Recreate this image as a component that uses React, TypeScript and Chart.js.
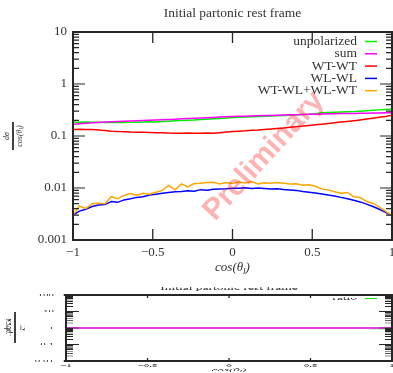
import React, { useEffect, useRef } from "react";
import { Chart, registerables } from "chart.js";

Chart.register(...registerables);

// ---------- data ----------
const xBins = [
  -1, -0.96, -0.92, -0.88, -0.84, -0.8, -0.76, -0.72, -0.68, -0.64, -0.6, -0.56, -0.52,
  -0.48, -0.44, -0.4, -0.36, -0.32, -0.28, -0.24, -0.2, -0.16, -0.12, -0.08, -0.04, 0,
  0.04, 0.08, 0.12, 0.16, 0.2, 0.24, 0.28, 0.32, 0.36, 0.4, 0.44, 0.48, 0.52, 0.56, 0.6,
  0.64, 0.68, 0.72, 0.76, 0.8, 0.84, 0.88, 0.92, 0.96, 1,
];

const unpolarized = [
  0.186, 0.184, 0.185, 0.183, 0.184, 0.182, 0.183, 0.181, 0.182, 0.184, 0.183, 0.185, 0.187,
  0.186, 0.19, 0.193, 0.196, 0.198, 0.201, 0.203, 0.207, 0.21, 0.214, 0.218, 0.222, 0.226,
  0.229, 0.232, 0.235, 0.238, 0.24, 0.243, 0.246, 0.249, 0.252, 0.255, 0.258, 0.262, 0.268,
  0.279, 0.284, 0.286, 0.289, 0.292, 0.295, 0.3, 0.306, 0.312, 0.318, 0.325, 0.332,
];

const sum = [
  0.168, 0.172, 0.176, 0.179, 0.182, 0.185, 0.187, 0.189, 0.192, 0.194, 0.196, 0.198, 0.2,
  0.203, 0.205, 0.208, 0.211, 0.214, 0.216, 0.219, 0.222, 0.225, 0.228, 0.231, 0.234, 0.237,
  0.239, 0.241, 0.243, 0.245, 0.247, 0.249, 0.251, 0.253, 0.255, 0.257, 0.259, 0.261, 0.263,
  0.265, 0.267, 0.268, 0.27, 0.271, 0.272, 0.274, 0.275, 0.276, 0.277, 0.279, 0.281,
];

const wtwt = [
  0.134, 0.135, 0.134, 0.133, 0.13, 0.127, 0.124, 0.122, 0.121, 0.119, 0.118, 0.118, 0.117,
  0.116, 0.116, 0.114, 0.113, 0.113, 0.114, 0.113, 0.113, 0.114, 0.113, 0.116, 0.119, 0.122,
  0.124, 0.126, 0.129, 0.131, 0.134, 0.137, 0.14, 0.143, 0.147, 0.151, 0.155, 0.16, 0.165,
  0.169, 0.174, 0.179, 0.185, 0.191, 0.197, 0.204, 0.212, 0.22, 0.229, 0.238, 0.25,
];

const wlwl = [
  0.003, 0.0036, 0.0039, 0.0044, 0.0047, 0.0048, 0.0055, 0.0053, 0.0059, 0.0062, 0.0066,
  0.0068, 0.0073, 0.0076, 0.0079, 0.0082, 0.0085, 0.0086, 0.0089, 0.0087, 0.0093, 0.0091,
  0.0095, 0.0096, 0.0097, 0.0099, 0.0099, 0.0101, 0.0098, 0.01, 0.0098, 0.0096, 0.0097,
  0.0094, 0.0092, 0.009, 0.0086, 0.0083, 0.008, 0.0077, 0.0073, 0.007, 0.0066, 0.0062,
  0.0058, 0.0054, 0.0049, 0.0044, 0.0039, 0.0034, 0.0029,
];

const mixed = [
  0.003, 0.0045, 0.004, 0.005, 0.0051, 0.005, 0.0068, 0.0062, 0.0072, 0.0078, 0.0073, 0.0079,
  0.0076, 0.0083, 0.009, 0.0112, 0.0092, 0.012, 0.0105, 0.0122, 0.0124, 0.0127, 0.0129,
  0.012, 0.0128, 0.0122, 0.013, 0.0125, 0.0133, 0.012, 0.0126, 0.0123, 0.0128, 0.0124,
  0.0119, 0.0121, 0.0113, 0.0116, 0.0108, 0.0096, 0.0092, 0.0085, 0.0079, 0.0082, 0.0068,
  0.0066, 0.0055, 0.0051, 0.0043, 0.0036, 0.0029,
];

const ratio = [
  1.08, 1.1, 1.06, 1.04, 1.02, 1.0, 1.0, 1.0, 1.0, 1.0, 1.0, 1.0, 1.02, 1.0, 1.0, 1.0, 1.0,
  1.0, 1.0, 1.0, 1.0, 1.0, 1.0, 1.0, 1.0, 1.04, 1.05, 1.02, 1.0, 1.03, 1.05, 1.02, 1.0, 1.0,
  1.0, 1.0, 0.98, 0.97, 0.96, 0.95, 0.94, 0.93, 0.93, 0.92, 0.92, 0.91, 0.91, 0.9, 0.9, 0.9,
  0.89,
];
const ratioRefX = [-1, 1];
const ratioRefY = [1, 1];

const xTickValues = [-1, -0.5, 0, 0.5, 1];
const mainYTicks = [0.001, 0.01, 0.1, 1, 10];
const ratioYTicks = [0.01, 0.1, 1, 10, 100];

const seriesLabels = ["unpolarized", "sum", "WT-WT", "WL-WL", "WT-WL+WL-WT"];
const seriesColors = ["#00ee00", "#ff00ff", "#ff0000", "#0000ff", "#ffa500"];
const titleText = "Initial partonic rest frame";

// ---------- styling helpers ----------
const FONT = '"Liberation Serif", "Times New Roman", serif';
const SANS = '"Liberation Sans", Arial, sans-serif';
const INK = "#333333";
const FRAME = "#262626";

type Part = [string, boolean];
const cosTheta: Part[] = [["cos(θ", false], ["l", true], [")", false]];

function drawParts(ctx: CanvasRenderingContext2D, parts: Part[], cx: number, cy: number, size: number, italic: boolean) {
  const base = `${italic ? "italic " : ""}${size}px ${FONT}`;
  const sub = `${italic ? "italic " : ""}${(size * 0.7).toFixed(1)}px ${FONT}`;
  let total = 0;
  for (const [t, s] of parts) {
    ctx.font = s ? sub : base;
    total += ctx.measureText(t).width;
  }
  let x = cx - total / 2;
  ctx.textAlign = "left";
  ctx.textBaseline = "middle";
  for (const [t, s] of parts) {
    ctx.font = s ? sub : base;
    ctx.fillText(t, x, s ? cy + size * 0.3 : cy);
    x += ctx.measureText(t).width;
  }
}

const gpPlugin = {
  id: "gp",
  afterDatasetsDraw(chart: any, _a: any, o: any) {
    if (!o.watermark) return;
    const ctx = chart.ctx as CanvasRenderingContext2D;
    ctx.save();
    ctx.translate(o.watermark.x, o.watermark.y);
    ctx.rotate((-o.watermark.angle * Math.PI) / 180);
    ctx.font = `bold ${o.watermark.size}px ${SANS}`;
    ctx.fillStyle = "rgba(255,0,0,0.3)";
    ctx.textAlign = "center";
    ctx.textBaseline = "middle";
    ctx.fillText(o.watermark.text, 0, 0);
    ctx.restore();
  },
  afterDraw(chart: any, _a: any, o: any) {
    const ctx = chart.ctx as CanvasRenderingContext2D;
    const ca = chart.chartArea;
    const xs = chart.scales.x;
    const ys = chart.scales.y;
    ctx.save();
    // frame
    ctx.strokeStyle = FRAME;
    ctx.lineCap = "square";
    ctx.lineWidth = o.frameHW;
    ctx.beginPath();
    ctx.moveTo(ca.left, ca.top); ctx.lineTo(ca.right, ca.top);
    ctx.moveTo(ca.left, ca.bottom); ctx.lineTo(ca.right, ca.bottom);
    ctx.stroke();
    ctx.lineWidth = o.frameW;
    ctx.beginPath();
    ctx.moveTo(ca.left, ca.top); ctx.lineTo(ca.left, ca.bottom);
    ctx.moveTo(ca.right, ca.top); ctx.lineTo(ca.right, ca.bottom);
    ctx.stroke();
    ctx.lineCap = "butt";
    // x ticks (mirrored, inward)
    ctx.lineWidth = o.vTickW;
    ctx.beginPath();
    for (const v of xTickValues) {
      const p = xs.getPixelForValue(v);
      ctx.moveTo(p, ca.top); ctx.lineTo(p, ca.top + o.xTickLen);
      ctx.moveTo(p, ca.bottom); ctx.lineTo(p, ca.bottom - o.xTickLen);
    }
    ctx.stroke();
    // y log ticks (mirrored, inward)
    ctx.lineWidth = o.hTickW;
    ctx.beginPath();
    const d0 = Math.round(Math.log10(ys.min));
    const d1 = Math.round(Math.log10(ys.max));
    for (let d = d0; d <= d1; d++) {
      for (let m = 1; m <= 9; m++) {
        if (d === d1 && m > 1) break;
        const p = ys.getPixelForValue(m * Math.pow(10, d));
        const len = m === 1 ? o.yMajorLen : o.yMinorLen;
        ctx.moveTo(ca.left, p); ctx.lineTo(ca.left + len, p);
        ctx.moveTo(ca.right, p); ctx.lineTo(ca.right - len, p);
      }
    }
    ctx.stroke();
    // title
    ctx.fillStyle = INK;
    ctx.font = `${o.titleSize}px ${FONT}`;
    ctx.textAlign = "center";
    ctx.textBaseline = "middle";
    ctx.fillText(o.title, (ca.left + ca.right) / 2, o.titleY);
    // legend (gnuplot style: text right aligned, then line sample)
    let i = 0;
    for (const ds of chart.data.datasets) {
      if (!ds.label) continue;
      const y = o.legendY0 + i * o.legendDy;
      ctx.fillStyle = INK;
      ctx.font = `${o.legendSize}px ${FONT}`;
      ctx.textAlign = "right";
      ctx.textBaseline = "middle";
      ctx.fillText(ds.label, o.legendRight, y);
      ctx.strokeStyle = ds.borderColor;
      ctx.lineWidth = o.legendLineW;
      ctx.beginPath();
      ctx.moveTo(o.legendRight + 8, y);
      ctx.lineTo(o.legendRight + 20, y);
      ctx.stroke();
      i++;
    }
    // x axis title
    ctx.fillStyle = INK;
    drawParts(ctx, cosTheta, (ca.left + ca.right) / 2, o.xTitleY, o.xTitleSize, true);
    // y axis label (rotated fraction)
    const yl = o.yLabel;
    ctx.translate(yl.x, yl.cy);
    ctx.rotate(-Math.PI / 2);
    ctx.fillStyle = "#111";
    ctx.fillRect(-yl.len / 2, -yl.barW / 2, yl.len, yl.barW);
    ctx.fillStyle = INK;
    drawParts(ctx, yl.num, 0, -yl.off, yl.size, true);
    drawParts(ctx, yl.den, 0, yl.off, yl.size, true);
    ctx.restore();
  },
};

const fmtX = (v: number) => (v < 0 ? "\u2212" + String(Math.abs(v)) : String(v));

function pts(ys: number[]) {
  return xBins.map((x, i) => ({ x, y: ys[i] }));
}

export default function App() {
  const mainRef = useRef<HTMLCanvasElement>(null);
  const ratioRef = useRef<HTMLCanvasElement>(null);

  useEffect(() => {
    const seriesValues = [unpolarized, sum, wtwt, wlwl, mixed];
    const main = new Chart(mainRef.current as HTMLCanvasElement, {
      type: "line",
      data: {
        datasets: seriesValues.map((vals, i) => ({
          label: seriesLabels[i],
          data: pts(vals),
          borderColor: seriesColors[i],
          backgroundColor: seriesColors[i],
          borderWidth: 1.5,
          pointRadius: 0,
          tension: 0,
          order: seriesValues.length - i,
        })),
      },
      options: {
        responsive: false,
        animation: false,
        events: [],
        layout: { padding: { left: 0, right: 1, top: 32, bottom: 0 } },
        plugins: {
          legend: { display: false },
          tooltip: { enabled: false },
          title: { display: false },
          gp: {
            title: titleText, titleY: 13, titleSize: 13.5,
            legendRight: 357, legendY0: 41.5, legendDy: 12.3, legendSize: 13.5, legendLineW: 1.5,
            xTitleY: 268, xTitleSize: 13,
            frameW: 2, frameHW: 2, vTickW: 1.3, hTickW: 1.2,
            xTickLen: 11, yMajorLen: 12, yMinorLen: 6,
            yLabel: {
              x: 13, cy: 136, len: 28, barW: 1.6, size: 8, off: 6.5,
              num: [["dσ", false]], den: cosTheta,
            },
            watermark: { text: "Preliminary", x: 264, y: 156, angle: 47.5, size: 30 },
          },
        } as any,
        scales: {
          x: {
            type: "linear", min: -1, max: 1,
            grid: { display: false, drawTicks: false },
            border: { display: false },
            ticks: {
              padding: 5, color: INK, font: { family: FONT, size: 13 },
              maxRotation: 0, autoSkip: false,
              callback: (v: any) => fmtX(Number(v)),
            },
            afterBuildTicks: (s: any) => { s.ticks = xTickValues.map((v) => ({ value: v })); },
            afterFit: (s: any) => { s.height = 40; s.paddingLeft = 0; s.paddingRight = 0; },
          },
          y: {
            type: "logarithmic", min: 0.001, max: 10,
            grid: { display: false, drawTicks: false },
            border: { display: false },
            ticks: {
              padding: 6, color: INK, font: { family: FONT, size: 13 },
              autoSkip: false,
              callback: (v: any) => String(Number(v)),
            },
            afterBuildTicks: (s: any) => { s.ticks = mainYTicks.map((v) => ({ value: v })); },
            afterFit: (s: any) => { s.width = 73; s.paddingTop = 0; s.paddingBottom = 0; },
          },
        } as any,
      },
      plugins: [gpPlugin as any],
    });

    const ratioChart = new Chart(ratioRef.current as HTMLCanvasElement, {
      type: "line",
      data: {
        datasets: [
          {
            label: "ratio",
            data: pts(ratio),
            borderColor: "#00ee00",
            borderWidth: 4,
            pointRadius: 0,
            tension: 0,
            order: 2,
          },
          {
            label: "",
            data: ratioRefX.map((x, i) => ({ x, y: ratioRefY[i] })),
            borderColor: "#e040e0",
            borderWidth: 4,
            pointRadius: 0,
            tension: 0,
            order: 1,
          },
        ],
      },
      options: {
        responsive: false,
        animation: false,
        events: [],
        layout: { padding: { left: 0, right: 1, top: 45, bottom: 0 } },
        plugins: {
          legend: { display: false },
          tooltip: { enabled: false },
          title: { display: false },
          gp: {
            title: titleText, titleY: 25, titleSize: 13.5,
            legendRight: 357, legendY0: 55, legendDy: 36, legendSize: 13.5, legendLineW: 4,
            xTitleY: 271, xTitleSize: 13,
            frameW: 2, frameHW: 4.5, vTickW: 1.3, hTickW: 2.5,
            xTickLen: 10, yMajorLen: 13, yMinorLen: 7,
            yLabel: {
              x: 15, cy: 143, len: 93, barW: 1.6, size: 11, off: 7,
              num: [["unpolarized", false]], den: [["sum", false]],
            },
            watermark: null,
          },
        } as any,
        scales: {
          x: {
            type: "linear", min: -1, max: 1,
            grid: { display: false, drawTicks: false },
            border: { display: false },
            ticks: {
              padding: 8, color: INK, font: { family: FONT, size: 11 },
              maxRotation: 0, autoSkip: false,
              callback: (v: any) => fmtX(Number(v)),
            },
            afterBuildTicks: (s: any) => { s.ticks = xTickValues.map((v) => ({ value: v })); },
            afterFit: (s: any) => { s.height = 36; s.paddingLeft = 0; s.paddingRight = 0; },
          },
          y: {
            type: "logarithmic", min: 0.01, max: 100,
            grid: { display: false, drawTicks: false },
            border: { display: false },
            ticks: {
              padding: 12, color: INK, font: { family: FONT, size: 11 },
              autoSkip: false,
              callback: (v: any) => String(Number(v)),
            },
            afterBuildTicks: (s: any) => { s.ticks = ratioYTicks.map((v) => ({ value: v })); },
            afterFit: (s: any) => { s.width = 66; s.paddingTop = 0; s.paddingBottom = 0; },
          },
        } as any,
      },
      plugins: [gpPlugin as any],
    });

    return () => {
      main.destroy();
      ratioChart.destroy();
    };
  }, []);

  return (
    <div
      style={{
        position: "fixed", left: 0, top: 0, width: 393, height: 373,
        background: "#ffffff", overflow: "hidden",
      }}
    >
      <canvas ref={mainRef} width={393} height={280} style={{ position: "absolute", left: 0, top: 0 }} />
      <div
        style={{
          position: "absolute", left: 0, top: 280, width: 393, height: 279,
          transform: "scaleY(0.333333)", transformOrigin: "0 0",
        }}
      >
        <canvas ref={ratioRef} width={393} height={279} />
      </div>
    </div>
  );
}
